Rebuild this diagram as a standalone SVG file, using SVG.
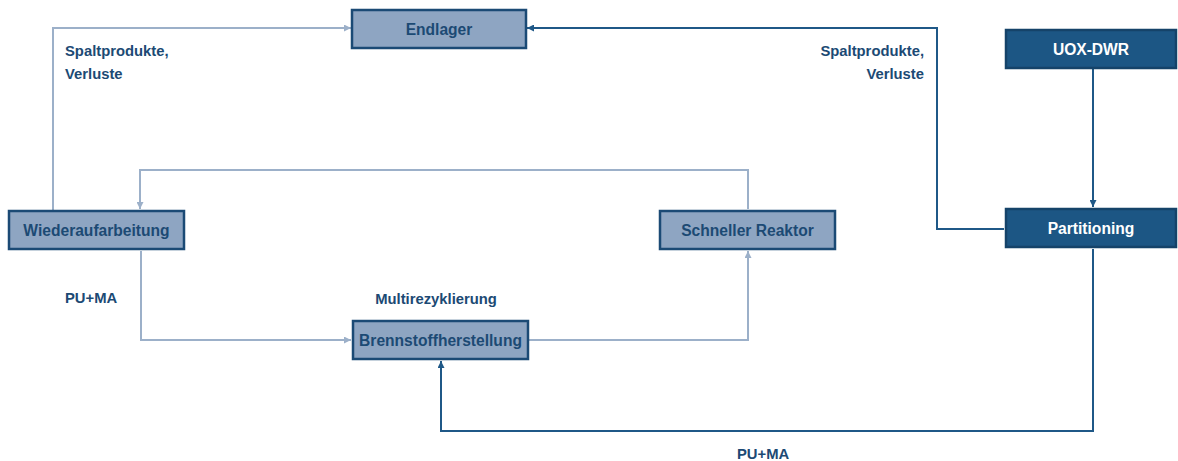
<svg xmlns="http://www.w3.org/2000/svg" width="1178" height="461" viewBox="0 0 1178 461">
  <defs>
    <style>
      .box-light { fill: #8ea5c2; stroke: #1b4a75; stroke-width: 2.5; }
      .box-dark { fill: #1c5684; stroke: #154369; stroke-width: 2.5; }
      .lbl { font-family: "Liberation Sans", Arial, sans-serif; font-weight: bold; font-size: 15.6px; text-anchor: middle; }
      .lbl-light { fill: #1c4a74; }
      .lbl-dark { fill: #ffffff; }
      .note { font-family: "Liberation Sans", Arial, sans-serif; font-weight: bold; font-size: 14.8px; fill: #1c4a74; }
      .flow-light { fill: none; stroke: #9cb0c9; stroke-width: 2; }
      .flow-dark { fill: none; stroke: #1f5887; stroke-width: 2; }
    </style>
    <marker id="arrow-light" viewBox="0 0 10 10" refX="10" refY="5" markerWidth="7" markerHeight="7" orient="auto" markerUnits="userSpaceOnUse">
      <path d="M0,0 L10,5 L0,10 z" fill="#9cb0c9"/>
    </marker>
    <marker id="arrow-dark" viewBox="0 0 10 10" refX="10" refY="5" markerWidth="7" markerHeight="7" orient="auto" markerUnits="userSpaceOnUse">
      <path d="M0,0 L10,5 L0,10 z" fill="#1f5887"/>
    </marker>
  </defs>

  <!-- flows between the stations -->
  <g id="connectors">
    <path class="flow-light" d="M53,210 V28 H351" marker-end="url(#arrow-light)"/>
    <path class="flow-light" d="M748,209 V170 H140 V209" marker-end="url(#arrow-light)"/>
    <path class="flow-light" d="M141,251 V340 H351" marker-end="url(#arrow-light)"/>
    <path class="flow-light" d="M529,340 H748 V251" marker-end="url(#arrow-light)"/>
    <path class="flow-dark" d="M1004,229 H937 V28 H527" marker-end="url(#arrow-dark)"/>
    <path class="flow-dark" d="M1093,69 V207" marker-end="url(#arrow-dark)"/>
    <path class="flow-dark" d="M1093,249 V431 H441 V361" marker-end="url(#arrow-dark)"/>
  </g>

  <g id="endlager">
    <rect class="box-light" x="352" y="10" width="174" height="38"/>
    <text class="lbl lbl-light" x="439" y="35">Endlager</text>
  </g>
  <g id="wiederaufarbeitung">
    <rect class="box-light" x="9" y="211" width="175" height="38"/>
    <text class="lbl lbl-light" x="96.5" y="236">Wiederaufarbeitung</text>
  </g>
  <g id="schneller-reaktor">
    <rect class="box-light" x="660" y="211" width="175" height="38"/>
    <text class="lbl lbl-light" x="747.5" y="236">Schneller Reaktor</text>
  </g>
  <g id="brennstoffherstellung">
    <rect class="box-light" x="353" y="321" width="175" height="38"/>
    <text class="lbl lbl-light" x="440.5" y="346">Brennstoffherstellung</text>
  </g>
  <g id="uox-dwr">
    <rect class="box-dark" x="1006" y="30" width="170" height="38"/>
    <text class="lbl lbl-dark" x="1091" y="55">UOX-DWR</text>
  </g>
  <g id="partitioning">
    <rect class="box-dark" x="1006" y="209" width="170" height="38"/>
    <text class="lbl lbl-dark" x="1091" y="234">Partitioning</text>
  </g>

  <!-- flow labels -->
  <g id="labels">
    <text class="note" x="65" y="56">Spaltprodukte,</text>
    <text class="note" x="65" y="79">Verluste</text>
    <text class="note" x="924" y="56" text-anchor="end">Spaltprodukte,</text>
    <text class="note" x="924" y="79" text-anchor="end">Verluste</text>
    <text class="note" x="65" y="303">PU+MA</text>
    <text class="note" x="436" y="304" text-anchor="middle">Multirezyklierung</text>
    <text class="note" x="737" y="459">PU+MA</text>
  </g>
</svg>
